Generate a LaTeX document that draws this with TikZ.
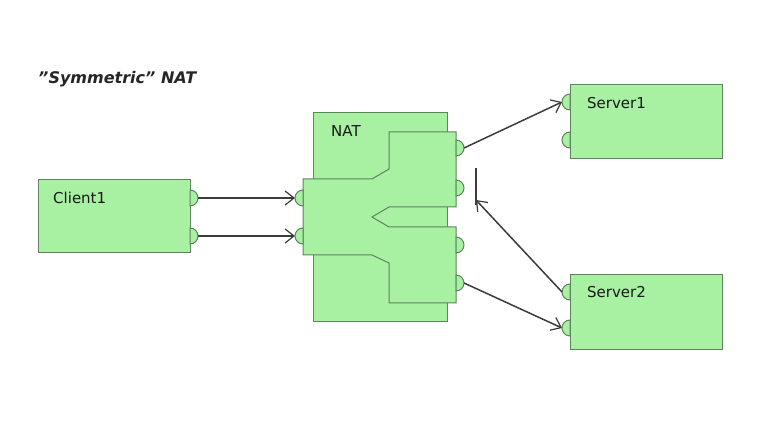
\documentclass[tikz,border=0pt]{standalone}
\usepackage{fontspec}
\setmainfont{DejaVu Sans}
\usetikzlibrary{arrows.meta}
\definecolor{boxfill}{RGB}{168,240,162}
\definecolor{boxline}{RGB}{95,130,95}
\definecolor{wire}{RGB}{60,60,60}
\newcommand{\portR}[3]{%
  \draw[portst] (#2,#3-8) arc (-90:90:8) -- cycle;
  \coordinate (#1) at (#2+8,#3);}
\newcommand{\portL}[3]{%
  \draw[portst] (#2,#3-8) arc (270:90:8) -- cycle;
  \coordinate (#1) at (#2-8,#3);}
\begin{document}
\begin{tikzpicture}[x=1pt,y=-1pt,
  boxst/.style={draw=boxline,fill=boxfill,line width=1pt},
  portst/.style={draw=boxline,fill=boxfill,line width=1pt},
  lbl/.style={inner sep=0pt,anchor=base west,font=\fontsize{15}{18}\selectfont,text=black!90},
  wirest/.style={draw=wire,line width=1.5pt,-{Straight Barb[length=9pt,width=14pt,line width=1.2pt]}}]
\useasboundingbox (0,0) rectangle (764,443);
\fill[white] (0,0) rectangle (764,443);
% title
\node[inner sep=0pt,anchor=base west,font=\fontsize{16}{19}\selectfont\bfseries\itshape,text=black!85] (title) at (38,84) {\symbol{"22}Symmetric\symbol{"22} NAT};
% client
\draw[boxst] (38,180) rectangle (190,253);
\node[lbl] (client) at (53,204) {Client1};
\portR{c1}{190}{198}
\portR{c2}{190}{236}
% NAT box
\draw[boxst] (313,113) rectangle (447,322);
\node[lbl] (nat) at (331,137) {NAT};
\draw[boxst] (303,255) -- (372,255) -- (389,263) -- (389,303) -- (456,303) -- (456,227)
  -- (389,227) -- (372,217) -- (389,207) -- (456,207) -- (456,132) -- (389,132)
  -- (389,169) -- (372,179) -- (303,179) -- cycle;
\portL{n1}{303}{198}
\portL{n2}{303}{236}
\portR{n3}{456}{148}
\portR{n4}{456}{188}
\portR{n5}{456}{245}
\portR{n6}{456}{283}
% servers
\draw[boxst] (570,85) rectangle (722,159);
\node[lbl] (s1) at (587,109) {Server1};
\portL{s1a}{570}{102}
\portL{s1b}{570}{140}
\draw[boxst] (570,275) rectangle (722,350);
\node[lbl] (s2) at (587,298) {Server2};
\portL{s2a}{570}{292}
\portL{s2b}{570}{328}
% wires
\draw[wirest] (c1) -- (n1);
\draw[wirest] (c2) -- (n2);
\draw[wirest] (n3) -- (s1a);
\draw[wirest] (n6) -- (s2b);
\coordinate (blk) at (476,200);
\coordinate (bartop) at (476,168);
\coordinate (barbot) at (476,205);
\draw[wirest] (s2a) -- (blk);
\draw[draw=wire,line width=1.5pt] (bartop) -- (barbot);
\end{tikzpicture}
\end{document}
